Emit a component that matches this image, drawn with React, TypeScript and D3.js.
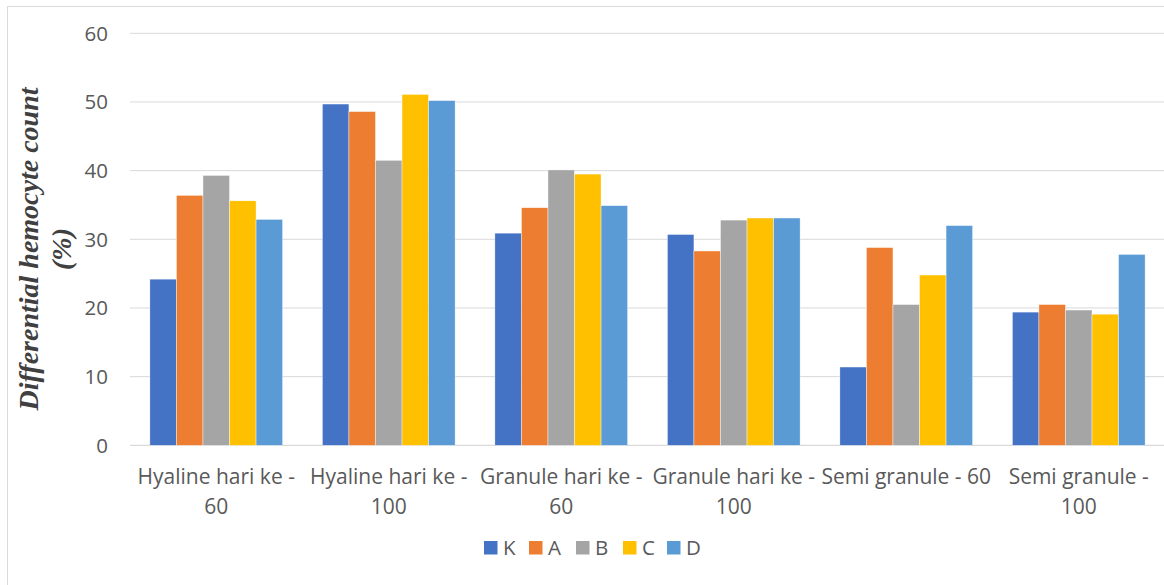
import React from "react";
import * as d3 from "d3";

const categories = [
  ["Hyaline hari ke -", "60"],
  ["Hyaline hari ke -", "100"],
  ["Granule hari ke -", "60"],
  ["Granule hari ke -", "100"],
  ["Semi granule - 60"],
  ["Semi granule -", "100"],
];
const seriesNames = ["K", "A", "B", "C", "D"];
const K = [24.2, 49.7, 30.9, 30.7, 11.4, 19.4];
const A = [36.4, 48.6, 34.6, 28.3, 28.8, 20.5];
const B = [39.3, 41.5, 40.1, 32.8, 20.5, 19.7];
const C = [35.6, 51.1, 39.5, 33.1, 24.8, 19.1];
const D = [32.9, 50.2, 34.9, 33.1, 32.0, 27.8];
const seriesValues = [K, A, B, C, D];
const colors = ["#4472C4", "#ED7D31", "#A5A5A5", "#FFC000", "#5B9BD5"];
const yTicks = [0, 10, 20, 30, 40, 50, 60];

const W = 1164;
const H = 585;
const left = 130;
const right = 1165;
const top = 33.3;
const bottom = 445.3;

export default function App() {
  const x0 = d3
    .scaleBand<number>()
    .domain(d3.range(categories.length))
    .range([left, right])
    .paddingInner(0)
    .paddingOuter(0);
  const step = x0.bandwidth();
  const barW = step / 6.5;
  const y = d3.scaleLinear().domain([0, 60]).range([bottom, top]);
  const font = "'Open Sans', sans-serif";
  const legendX = [484, 529, 576, 623, 667];

  return (
    <svg
      width={W}
      height={H}
      style={{ position: "absolute", left: 0, top: 0, background: "#fff" }}
    >
      <rect x={7.5} y={6.5} width={W + 10} height={H + 10} fill="#fff" stroke="#d9d9d9" strokeWidth={1} />
      {yTicks.map((t) => (
        <g key={t}>
          <line x1={left} x2={W} y1={y(t)} y2={y(t)} stroke="#d9d9d9" strokeWidth={t === 0 ? 1.3 : 1} />
          <text x={108} y={y(t)} dy="0.36em" textAnchor="end" fontFamily={font} fontSize={20.5} fill="#595959">
            {t}
          </text>
        </g>
      ))}
      {categories.map((_, ci) =>
        seriesValues.map((vals, si) => {
          const bx = (x0(ci) as number) + barW * 0.75 + si * barW;
          return (
            <rect
              key={`${ci}-${si}`}
              x={bx}
              y={y(vals[ci])}
              width={barW}
              height={y(0) - y(vals[ci])}
              fill={colors[si]}
              stroke="#fff"
              strokeWidth={0.4}
            />
          );
        })
      )}
      {categories.map((lines, ci) => {
        const cx = (x0(ci) as number) + step / 2;
        return (
          <text key={ci} textAnchor="middle" fontFamily={font} fontSize={21} fill="#595959">
            {lines.map((l, li) => (
              <tspan key={li} x={cx} y={484 + li * 30}>
                {l}
              </tspan>
            ))}
          </text>
        );
      })}
      {seriesNames.map((n, i) => (
        <g key={n}>
          <rect x={legendX[i]} y={541} width={13.5} height={13.5} fill={colors[i]} />
          <text x={legendX[i] + 19} y={548} dy="0.36em" fontFamily={font} fontSize={20.5} fill="#595959">
            {n}
          </text>
        </g>
      ))}
      <text
        transform="translate(28,249) rotate(-90)"
        textAnchor="middle"
        fontFamily="'Liberation Serif', 'Times New Roman', serif"
        fontStyle="italic"
        fontWeight="bold"
        fontSize={28}
        fill="#404040"
      >
        <tspan x={0} y={0} dy="0.35em">Differential hemocyte count</tspan>
        <tspan x={0} y={33} dy="0.35em">(%)</tspan>
      </text>
    </svg>
  );
}
